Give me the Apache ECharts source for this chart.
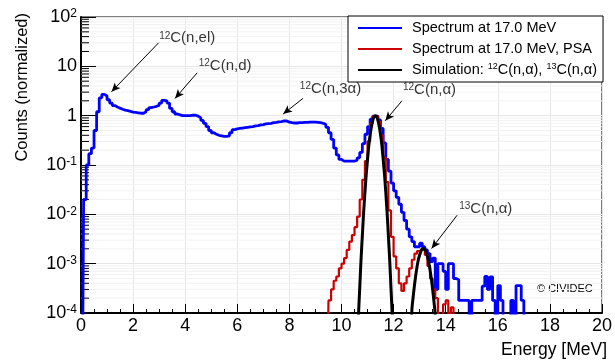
<!DOCTYPE html>
<html>
<head>
<meta charset="utf-8">
<script src="https://cdn.jsdelivr.net/npm/echarts@6/dist/echarts.min.js"></script>
<style>
  html, body { margin: 0; padding: 0; background: #fff; }
  #chart { width: 615px; height: 362px; }
</style>
</head>
<body>
<div id="chart"></div>
<script>
// histogram bins (MeV), zero-count bins are given as 1e-6 (below the axis)
var binWidth = 0.1;
var blueStart = 0.05;
var blueCounts = [
  1e-6, 0.02, 0.1, 0.17, 0.22, 0.5, 1.2, 2.3, 2.7, 2.5,
  2.1, 1.8, 1.6, 1.5, 1.42, 1.35, 1.3, 1.26, 1.22, 1.18,
  1.16, 1.14, 1.12, 1.12, 1.2, 1.32, 1.45, 1.5, 1.55, 1.62,
  1.8, 2.05, 2.0, 1.8, 1.4, 1.2, 1.08, 1.04, 1.0, 1.0,
  1.0, 1.0, 1.02, 1.02, 0.98, 0.9, 0.8, 0.7, 0.6, 0.5,
  0.45, 0.42, 0.4, 0.39, 0.38, 0.38, 0.39, 0.45, 0.52, 0.54,
  0.55, 0.56, 0.57, 0.58, 0.59, 0.6, 0.62, 0.63, 0.65, 0.66,
  0.68, 0.69, 0.7, 0.72, 0.73, 0.75, 0.76, 0.78, 0.78, 0.74,
  0.72, 0.71, 0.71, 0.72, 0.72, 0.73, 0.73, 0.74, 0.74, 0.74,
  0.73, 0.72, 0.7, 0.66, 0.58, 0.45, 0.33, 0.22, 0.16, 0.13,
  0.12, 0.12, 0.12, 0.12, 0.12, 0.125, 0.14, 0.18, 0.27, 0.42,
  0.6, 0.85, 0.98, 0.98, 0.82, 0.55, 0.28, 0.13, 0.075, 0.043,
  0.03, 0.022, 0.016, 0.011, 0.0075, 0.005, 0.0035, 0.0028, 0.0022, 0.0022,
  0.0026, 0.0022, 0.0019, 0.0016, 0.0011, 0.0013, 0.0003, 0.001, 0.001, 0.0007,
  0.0003, 0.001, 0.001, 0.0005, 0.00047, 0.00018, 0.00018, 0.00018, 0.00018, 1e-6,
  0.00018, 0.00018, 0.00018, 0.00018, 0.00035, 0.00055, 0.0003, 0.00054, 0.00018, 1e-6,
  0.00036, 0.00018, 1e-6, 1e-6, 1e-6, 0.00018, 1e-6, 0.00036, 0.00036, 0.00018,
  1e-6
];
var redStart = 9.45;
var redCounts = [
  1e-6, 0.00018, 0.0003, 0.00045, 0.00055, 0.0008, 0.001, 0.0013, 0.0019, 0.0028,
  0.0038, 0.0055, 0.009, 0.02, 0.05, 0.12, 0.3, 0.7, 0.97, 0.97,
  0.75, 0.4, 0.14, 0.045, 0.012, 0.0035, 0.0014, 0.0008, 0.0004, 0.00028,
  0.0004, 0.00055, 0.0008, 0.0012, 0.0016, 0.0018, 0.0019, 0.0019, 0.0015, 0.0009,
  0.0005, 0.0003, 0.0002, 1e-6, 1e-6, 0.00015, 0.00018, 1e-6, 0.00013, 1e-6
];
var simEnergy = [
  10.55, 10.65, 10.7, 10.75, 10.8, 10.85, 10.9, 10.95, 11.0, 11.05,
  11.1, 11.15, 11.2, 11.25, 11.3, 11.35, 11.4, 11.45, 11.5, 11.55,
  11.6, 11.65, 11.7, 11.75, 11.8, 11.85, 11.9, 11.95, 12.05,
  12.6, 12.7, 12.75, 12.8, 12.85, 12.9, 12.95, 13.0, 13.05, 13.1,
  13.15, 13.2, 13.25, 13.3, 13.35, 13.4, 13.45, 13.5, 13.55, 13.6, 13.7
];
var simCounts = [
  1e-6, 8e-5, 3.2e-4, 1.2e-3, 3.7e-3, 0.011, 0.028, 0.065, 0.13, 0.25,
  0.41, 0.6, 0.8, 0.95, 1.0, 0.95, 0.8, 0.6, 0.41, 0.25,
  0.13, 0.065, 0.028, 0.011, 3.7e-3, 1.2e-3, 3.2e-4, 8e-5, 1e-6,
  1e-6, 1.1e-4, 2.1e-4, 3.6e-4, 5.8e-4, 8.7e-4, 1.2e-3, 1.5e-3, 1.8e-3, 2.0e-3,
  2.0e-3, 1.95e-3, 1.7e-3, 1.4e-3, 1.05e-3, 7.4e-4, 4.9e-4, 3e-4, 1.7e-4, 8.5e-5, 1e-6
];
var minorTickValues = [];
[1e-4, 1e-3, 1e-2, 1e-1, 1, 10].forEach(function (d) {
  [2, 3, 4, 5, 6, 7, 8, 9].forEach(function (m) { minorTickValues.push(m * d); });
});

var blueName = 'Spectrum at 17.0 MeV';
var redName = 'Spectrum at 17.0 MeV, PSA';
var simName = 'Simulation: 12C(n,α), 13C(n,α)';

var FONT = '"Liberation Sans", Arial, Helvetica, sans-serif';

var chart = echarts.init(document.getElementById('chart'), null, { renderer: 'canvas' });

function toPairs(start, values) {
  return values.map(function (v, i) { return [+(start + i * binWidth).toFixed(2), v]; });
}

chart.setOption({
  animation: false,
  backgroundColor: '#fff',
  textStyle: { fontFamily: FONT },
  grid: {
    left: 81, right: 8, top: 17, bottom: 49,
    show: true, borderColor: '#000', borderWidth: 1, backgroundColor: '#fff'
  },
  legend: {
    data: [blueName, redName, simName],
    orient: 'vertical',
    left: 348, top: 16,
    padding: [4, 6, 4, 10],
    itemGap: 5,
    itemWidth: 44, itemHeight: 2,
    icon: 'rect',
    borderColor: '#000', borderWidth: 1,
    backgroundColor: '#fff',
    formatter: function (name) {
      return name === simName ? 'Simulation: {sup|12}C(n,α), {sup|13}C(n,α)' : name;
    },
    textStyle: {
      fontFamily: FONT, fontSize: 14.5, color: '#000', lineHeight: 16, padding: [0, 0, 0, 5],
      rich: { sup: { fontSize: 9, verticalAlign: 'top', lineHeight: 10 } }
    }
  },
  xAxis: {
    type: 'value', min: 0, max: 20, interval: 2,
    axisLine: { lineStyle: { color: '#000', width: 2 } },
    axisTick: { inside: true, length: 9, lineStyle: { color: '#000', width: 1 } },
    minorTick: { show: true, splitNumber: 4, length: 4, lineStyle: { color: '#000', width: 1 } },
    splitLine: { show: true, lineStyle: { color: '#e6e6e6', width: 1 } },
    axisLabel: { color: '#000', fontSize: 18, fontFamily: FONT, margin: 4 }
  },
  yAxis: {
    type: 'log', logBase: 10, min: 1e-4, max: 100, splitNumber: 6,
    axisLine: { lineStyle: { color: '#000', width: 2 } },
    axisTick: { inside: true, length: 15, lineStyle: { color: '#000', width: 1 } },
    splitLine: { show: true, lineStyle: { color: '#e6e6e6', width: 1 } },
    axisLabel: {
      color: '#000', fontSize: 18, fontFamily: FONT, margin: 4,
      formatter: function (v) {
        var e = Math.round(Math.log10(v));
        if (e === 0) return '1';
        if (e === 1) return '10';
        return '10{sup|' + e + '}';
      },
      rich: { sup: { fontSize: 12, verticalAlign: 'top', lineHeight: 10 } }
    }
  },
  graphic: [
    {
      type: 'text', x: 22, y: 13, rotation: Math.PI / 2,
      style: { text: 'Counts (normalized)', font: '16.5px ' + FONT, fill: '#000', align: 'right', verticalAlign: 'middle' }
    },
    {
      type: 'text', right: 8, top: 341,
      style: { text: 'Energy [MeV]', font: '17.5px ' + FONT, fill: '#000' }
    },
    {
      type: 'text', left: 537, top: 283,
      style: { text: '© CIVIDEC', font: '11px ' + FONT, fill: '#000' }
    }
  ],
  series: [
    {
      type: 'custom', name: 'minor', silent: true, z: 1,
      data: minorTickValues.map(function (v) { return [0, v]; }),
      renderItem: function (params, api) {
        var p = api.coord([0, api.value(1)]);
        var cs = params.coordSys;
        return {
          type: 'group',
          children: [
            { type: 'line', shape: { x1: cs.x, y1: p[1], x2: cs.x + cs.width, y2: p[1] }, style: { stroke: '#f2f2f2', lineWidth: 1 } },
            { type: 'line', shape: { x1: cs.x, y1: p[1], x2: cs.x + 8, y2: p[1] }, style: { stroke: '#000', lineWidth: 1 } }
          ]
        };
      }
    },
    {
      name: blueName, type: 'line', step: 'middle', showSymbol: false, symbol: 'none', z: 3,
      lineStyle: { color: '#0000ff', width: 2.8 }, itemStyle: { color: '#0000ff' },
      data: toPairs(blueStart, blueCounts)
    },
    {
      name: redName, type: 'line', step: 'middle', showSymbol: false, symbol: 'none', z: 4,
      lineStyle: { color: '#cc0000', width: 2.2 }, itemStyle: { color: '#cc0000' },
      data: toPairs(redStart, redCounts)
    },
    {
      name: simName, type: 'line', showSymbol: false, symbol: 'none', z: 5, smooth: 0.3,
      lineStyle: { color: '#000', width: 3 }, itemStyle: { color: '#000' },
      data: simEnergy.map(function (e, i) { return [e, simCounts[i]]; })
    },
    {
      type: 'scatter', name: 'annotations', silent: true, z: 6, symbolSize: 0,
      label: {
        show: true, position: 'right', distance: 0, color: '#000',
        fontFamily: FONT, fontSize: 15,
        formatter: function (p) { return p.name; },
        rich: { sup: { fontSize: 10, verticalAlign: 'top', lineHeight: 10 } }
      },
      data: [
        { name: '{sup|12}C(n,el)', value: [3.0, 37] },
        { name: '{sup|12}C(n,d)', value: [4.52, 10.1] },
        { name: '{sup|12}C(n,3α)', value: [8.4, 3.47] },
        { name: '{sup|12}C(n,α)', value: [12.36, 3.3] },
        { name: '{sup|13}C(n,α)', value: [14.52, 0.0128] }
      ],
      markLine: {
        silent: true, symbol: ['none', 'arrow'], symbolSize: [6, 9],
        label: { show: false },
        lineStyle: { color: '#000', width: 1, type: 'solid' },
        data: [
          [{ coord: [2.98, 30] }, { coord: [1.17, 3.05] }],
          [{ coord: [4.46, 7.4] }, { coord: [3.61, 2.24] }],
          [{ coord: [8.52, 2.24] }, { coord: [7.76, 1.08] }],
          [{ coord: [12.32, 2.0] }, { coord: [11.68, 0.79] }],
          [{ coord: [14.44, 0.0096] }, { coord: [13.46, 0.00204] }]
        ]
      }
    }
  ]
});
</script>
</body>
</html>
